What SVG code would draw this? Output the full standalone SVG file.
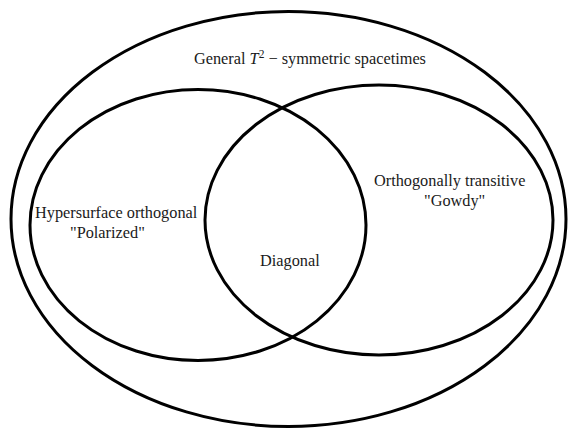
<svg xmlns="http://www.w3.org/2000/svg" width="569" height="429" viewBox="0 0 569 429">
<style>
.set{fill:none;stroke:#000;stroke-width:3}
.lbl{font-family:"Liberation Serif","Times New Roman",serif;font-size:16.3px;fill:#1a1a1a}
</style>
<rect width="569" height="429" fill="#fff"/>
<g id="general">
<ellipse class="set" cx="288.5" cy="219" rx="277.5" ry="207.5"/>
<text class="lbl" x="194" y="64">General <tspan font-style="italic">T</tspan><tspan font-size="11.5" dy="-6">2</tspan><tspan dy="6"> − symmetric spacetimes</tspan></text>
</g>
<g id="polarized">
<ellipse class="set" cx="198" cy="225" rx="168" ry="135.5"/>
<text class="lbl" x="35" y="218">Hypersurface orthogonal</text>
<text class="lbl" x="70" y="238">"Polarized"</text>
</g>
<g id="gowdy">
<ellipse class="set" cx="379" cy="220" rx="174" ry="135"/>
<text class="lbl" x="374" y="186">Orthogonally transitive</text>
<text class="lbl" x="424" y="206">"Gowdy"</text>
</g>
<g id="diagonal">
<text class="lbl" x="260" y="266">Diagonal</text>
</g>
</svg>
